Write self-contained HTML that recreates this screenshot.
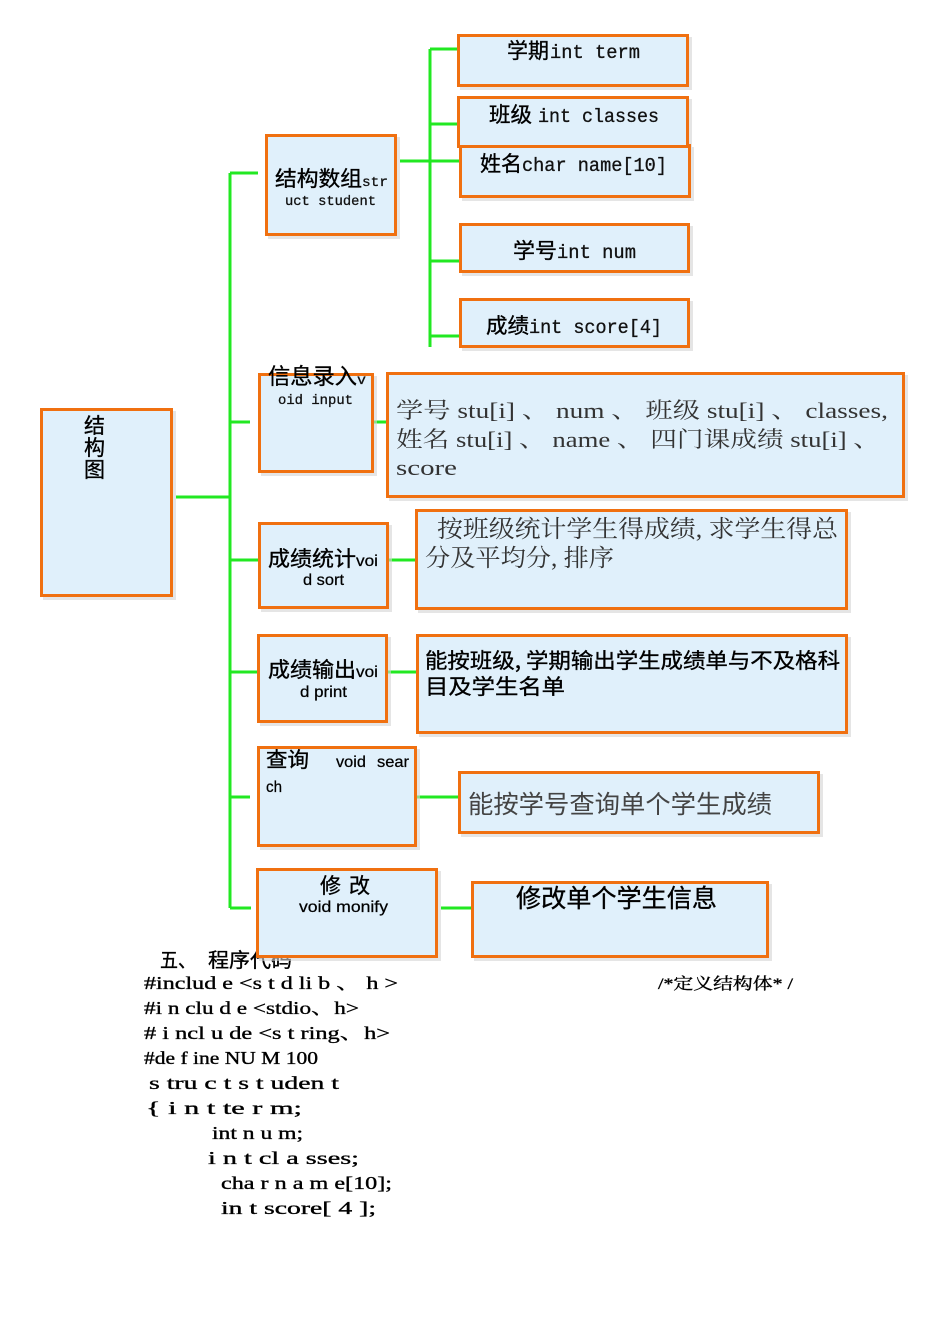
<!DOCTYPE html>
<html><head><meta charset="utf-8"><style>
html,body{margin:0;padding:0;background:#fff;}
svg{display:block;white-space:pre;}
.h{font-family:"WenQuanYi Zen Hei","Noto Sans CJK SC",sans-serif;fill:#000;stroke:#000;stroke-width:0.35;}
.m{font-family:"Liberation Mono",monospace;fill:#111;stroke:#111;stroke-width:0.3;}
.s{font-family:"Liberation Sans",Arial,sans-serif;fill:#000;stroke:#000;stroke-width:0.25;}
.sf{font-family:"Liberation Serif","Noto Serif CJK SC",serif;fill:#333;}
.lt{font-family:"Liberation Sans","Noto Sans CJK SC",sans-serif;fill:#444;}
.c{font-family:"Liberation Serif","Noto Serif CJK SC",serif;fill:#000;stroke:#000;stroke-width:0.35;}
</style></head><body>
<svg width="950" height="1344" viewBox="0 0 950 1344" xmlns="http://www.w3.org/2000/svg">
<!-- green connectors -->
<g stroke="#22e822" stroke-width="3" fill="none">
<path d="M176 497H230"/>
<path d="M230 173V908"/>
<path d="M230 173H258"/>
<path d="M230 422H250"/>
<path d="M230 560H258"/>
<path d="M230 672H257"/>
<path d="M230 797H250"/>
<path d="M230 908H251"/>
<path d="M400 161H459"/>
<path d="M430 49V347"/>
<path d="M430 49H458"/>
<path d="M430 124H458"/>
<path d="M430 261H459"/>
<path d="M430 336H459"/>
<path d="M374 422H387"/>
<path d="M389 560H416"/>
<path d="M388 672H416"/>
<path d="M417 797H459"/>
<path d="M441 908H471"/>
</g>

<!-- code section title (partly covered) -->
<text class="h" x="160" y="967" font-size="20" textLength="36" lengthAdjust="spacingAndGlyphs">五、</text>
<text class="h" x="208" y="967" font-size="20" textLength="84" lengthAdjust="spacingAndGlyphs">程序代码</text>

<!-- boxes: shadow then box -->
<g fill="#d4d4d4" opacity="0.6">
<rect x="43" y="411" width="133" height="189"/>
<rect x="268" y="137" width="132" height="102"/>
<rect x="460" y="37" width="232" height="53"/>
<rect x="462" y="147" width="232" height="54"/>
<rect x="460" y="99" width="232" height="52"/>
<rect x="462" y="226" width="231" height="50"/>
<rect x="462" y="301" width="231" height="50"/>
<rect x="261" y="376" width="116" height="100"/>
<rect x="389" y="375" width="519" height="126"/>
<rect x="261" y="525" width="131" height="87"/>
<rect x="418" y="512" width="433" height="101"/>
<rect x="260" y="637" width="131" height="89"/>
<rect x="419" y="637" width="432" height="100"/>
<rect x="260" y="749" width="160" height="101"/>
<rect x="461" y="774" width="362" height="63"/>
<rect x="259" y="871" width="182" height="90"/>
<rect x="474" y="884" width="298" height="77"/>
</g>
<g fill="#e0f0fb" stroke="#f07010" stroke-width="3">
<rect x="41.5" y="409.5" width="130" height="186"/>
<rect x="266.5" y="135.5" width="129" height="99"/>
<rect x="458.5" y="35.5" width="229" height="50"/>
<rect x="460.5" y="145.5" width="229" height="51"/>
<rect x="458.5" y="97.5" width="229" height="49"/>
<rect x="460.5" y="224.5" width="228" height="47"/>
<rect x="460.5" y="299.5" width="228" height="47"/>
<rect x="259.5" y="374.5" width="113" height="97"/>
<rect x="387.5" y="373.5" width="516" height="123"/>
<rect x="259.5" y="523.5" width="128" height="84"/>
<rect x="416.5" y="510.5" width="430" height="98"/>
<rect x="258.5" y="635.5" width="128" height="86"/>
<rect x="417.5" y="635.5" width="429" height="97"/>
<rect x="258.5" y="747.5" width="157" height="98"/>
<rect x="459.5" y="772.5" width="359" height="60"/>
<rect x="257.5" y="869.5" width="179" height="87"/>
<rect x="472.5" y="882.5" width="295" height="74"/>
</g>

<!-- 结构图 -->
<text class="h" x="84" y="433" font-size="21">结</text>
<text class="h" x="84" y="455" font-size="21">构</text>
<text class="h" x="84" y="477" font-size="21">图</text>

<!-- 结构数组 -->
<text class="h" x="275" y="186" font-size="21" textLength="87" lengthAdjust="spacingAndGlyphs">结构数组</text>
<text class="m" x="362" y="186" font-size="14" textLength="26" lengthAdjust="spacingAndGlyphs">str</text>
<text class="m" x="285" y="205" font-size="14" textLength="91" lengthAdjust="spacingAndGlyphs">uct student</text>

<!-- struct members -->
<text class="h" x="507" y="58" font-size="21" textLength="42" lengthAdjust="spacingAndGlyphs">学期</text>
<text class="m" x="550" y="58" font-size="19" textLength="90" lengthAdjust="spacingAndGlyphs">int term</text>
<text class="h" x="489" y="122" font-size="21" textLength="43" lengthAdjust="spacingAndGlyphs">班级</text>
<text class="m" x="538" y="122" font-size="19" textLength="121" lengthAdjust="spacingAndGlyphs">int classes</text>
<text class="h" x="480" y="171" font-size="21" textLength="42" lengthAdjust="spacingAndGlyphs">姓名</text>
<text class="m" x="522" y="171" font-size="19" textLength="145" lengthAdjust="spacingAndGlyphs">char name[10]</text>
<text class="h" x="513" y="258" font-size="21" textLength="44" lengthAdjust="spacingAndGlyphs">学号</text>
<text class="m" x="557" y="258" font-size="19" textLength="79" lengthAdjust="spacingAndGlyphs">int num</text>
<text class="h" x="486" y="333" font-size="21" textLength="43" lengthAdjust="spacingAndGlyphs">成绩</text>
<text class="m" x="529" y="333" font-size="19" textLength="133" lengthAdjust="spacingAndGlyphs">int score[4]</text>

<!-- 信息录入 -->
<text class="h" x="268" y="384" font-size="22" textLength="89" lengthAdjust="spacingAndGlyphs">信息录入</text>
<text class="m" x="357" y="384" font-size="14" textLength="9" lengthAdjust="spacingAndGlyphs">v</text>
<text class="m" x="278" y="404" font-size="14" textLength="75" lengthAdjust="spacingAndGlyphs">oid input</text>

<!-- 成绩统计 -->
<text class="h" x="268" y="566" font-size="21" textLength="88" lengthAdjust="spacingAndGlyphs">成绩统计</text>
<text class="s" x="356" y="566" font-size="16" textLength="22" lengthAdjust="spacingAndGlyphs">voi</text>
<text class="s" x="303" y="585" font-size="16" textLength="41" lengthAdjust="spacingAndGlyphs">d sort</text>

<!-- 成绩输出 -->
<text class="h" x="268" y="677" font-size="21" textLength="88" lengthAdjust="spacingAndGlyphs">成绩输出</text>
<text class="s" x="356" y="677" font-size="16" textLength="22" lengthAdjust="spacingAndGlyphs">voi</text>
<text class="s" x="300" y="697" font-size="16" textLength="47" lengthAdjust="spacingAndGlyphs">d print</text>

<!-- 查询 -->
<text class="h" x="266" y="767" font-size="21" textLength="43" lengthAdjust="spacingAndGlyphs">查询</text>
<text class="s" x="336" y="767" font-size="16" textLength="30" lengthAdjust="spacingAndGlyphs">void</text>
<text class="s" x="377" y="767" font-size="16" textLength="32" lengthAdjust="spacingAndGlyphs">sear</text>
<text class="s" x="266" y="792" font-size="16" textLength="16" lengthAdjust="spacingAndGlyphs">ch</text>

<!-- 修改 -->
<text class="h" x="320" y="893" font-size="21">修</text>
<text class="h" x="349" y="893" font-size="21">改</text>
<text class="s" x="299" y="912" font-size="16" textLength="89" lengthAdjust="spacingAndGlyphs">void  monify</text>

<!-- description boxes -->
<text class="sf" x="396" y="418" font-size="22" textLength="492" lengthAdjust="spacingAndGlyphs">学号 stu[i] 、 num 、 班级 stu[i] 、 classes,</text>
<text class="sf" x="396" y="447" font-size="22" textLength="484" lengthAdjust="spacingAndGlyphs">姓名 stu[i] 、 name 、 四门课成绩 stu[i] 、</text>
<text class="sf" x="396" y="475" font-size="22" textLength="61" lengthAdjust="spacingAndGlyphs">score</text>

<text class="sf" x="437" y="537" font-size="24" fill="#222" textLength="401" lengthAdjust="spacingAndGlyphs">按班级统计学生得成绩, 求学生得总</text>
<text class="sf" x="425" y="566" font-size="24" fill="#222" textLength="189" lengthAdjust="spacingAndGlyphs">分及平均分, 排序</text>

<text class="h" x="425" y="668" font-size="21" textLength="415" lengthAdjust="spacingAndGlyphs">能按班级, 学期输出学生成绩单与不及格科</text>
<text class="h" x="425" y="694" font-size="21" textLength="140" lengthAdjust="spacingAndGlyphs">目及学生名单</text>

<text class="lt" x="468" y="813" font-size="25" textLength="304" lengthAdjust="spacingAndGlyphs">能按学号查询单个学生成绩</text>

<text class="h" x="516" y="907" font-size="25" textLength="201" lengthAdjust="spacingAndGlyphs">修改单个学生信息</text>

<!-- code -->
<text class="c" x="144" y="989" font-size="18" textLength="254" lengthAdjust="spacingAndGlyphs">#includ e &lt;s t d li b 、 h &gt;</text>
<text class="c" x="658" y="989" font-size="16" textLength="135" lengthAdjust="spacingAndGlyphs">/*定义结构体* /</text>
<text class="c" x="144" y="1014" font-size="18" textLength="215" lengthAdjust="spacingAndGlyphs">#i n clu d e &lt;stdio、h&gt;</text>
<text class="c" x="144" y="1039" font-size="18" textLength="246" lengthAdjust="spacingAndGlyphs"># i ncl u de &lt;s t ring、h&gt;</text>
<text class="c" x="144" y="1064" font-size="18" textLength="174" lengthAdjust="spacingAndGlyphs">#de f ine NU M  100</text>
<text class="c" x="149" y="1089" font-size="18" textLength="190" lengthAdjust="spacingAndGlyphs">s tru c t  s t uden t</text>
<text class="c" x="146" y="1114" font-size="18" textLength="156" lengthAdjust="spacingAndGlyphs">{   i n t  te r m;</text>
<text class="c" x="212" y="1139" font-size="18" textLength="91" lengthAdjust="spacingAndGlyphs">int n u m;</text>
<text class="c" x="208" y="1164" font-size="18" textLength="151" lengthAdjust="spacingAndGlyphs">i n t  cl a sses;</text>
<text class="c" x="221" y="1189" font-size="18" textLength="171" lengthAdjust="spacingAndGlyphs">cha r  n a m e[10];</text>
<text class="c" x="221" y="1214" font-size="18" textLength="155" lengthAdjust="spacingAndGlyphs">in t   score[ 4 ];</text>
</svg>
</body></html>
